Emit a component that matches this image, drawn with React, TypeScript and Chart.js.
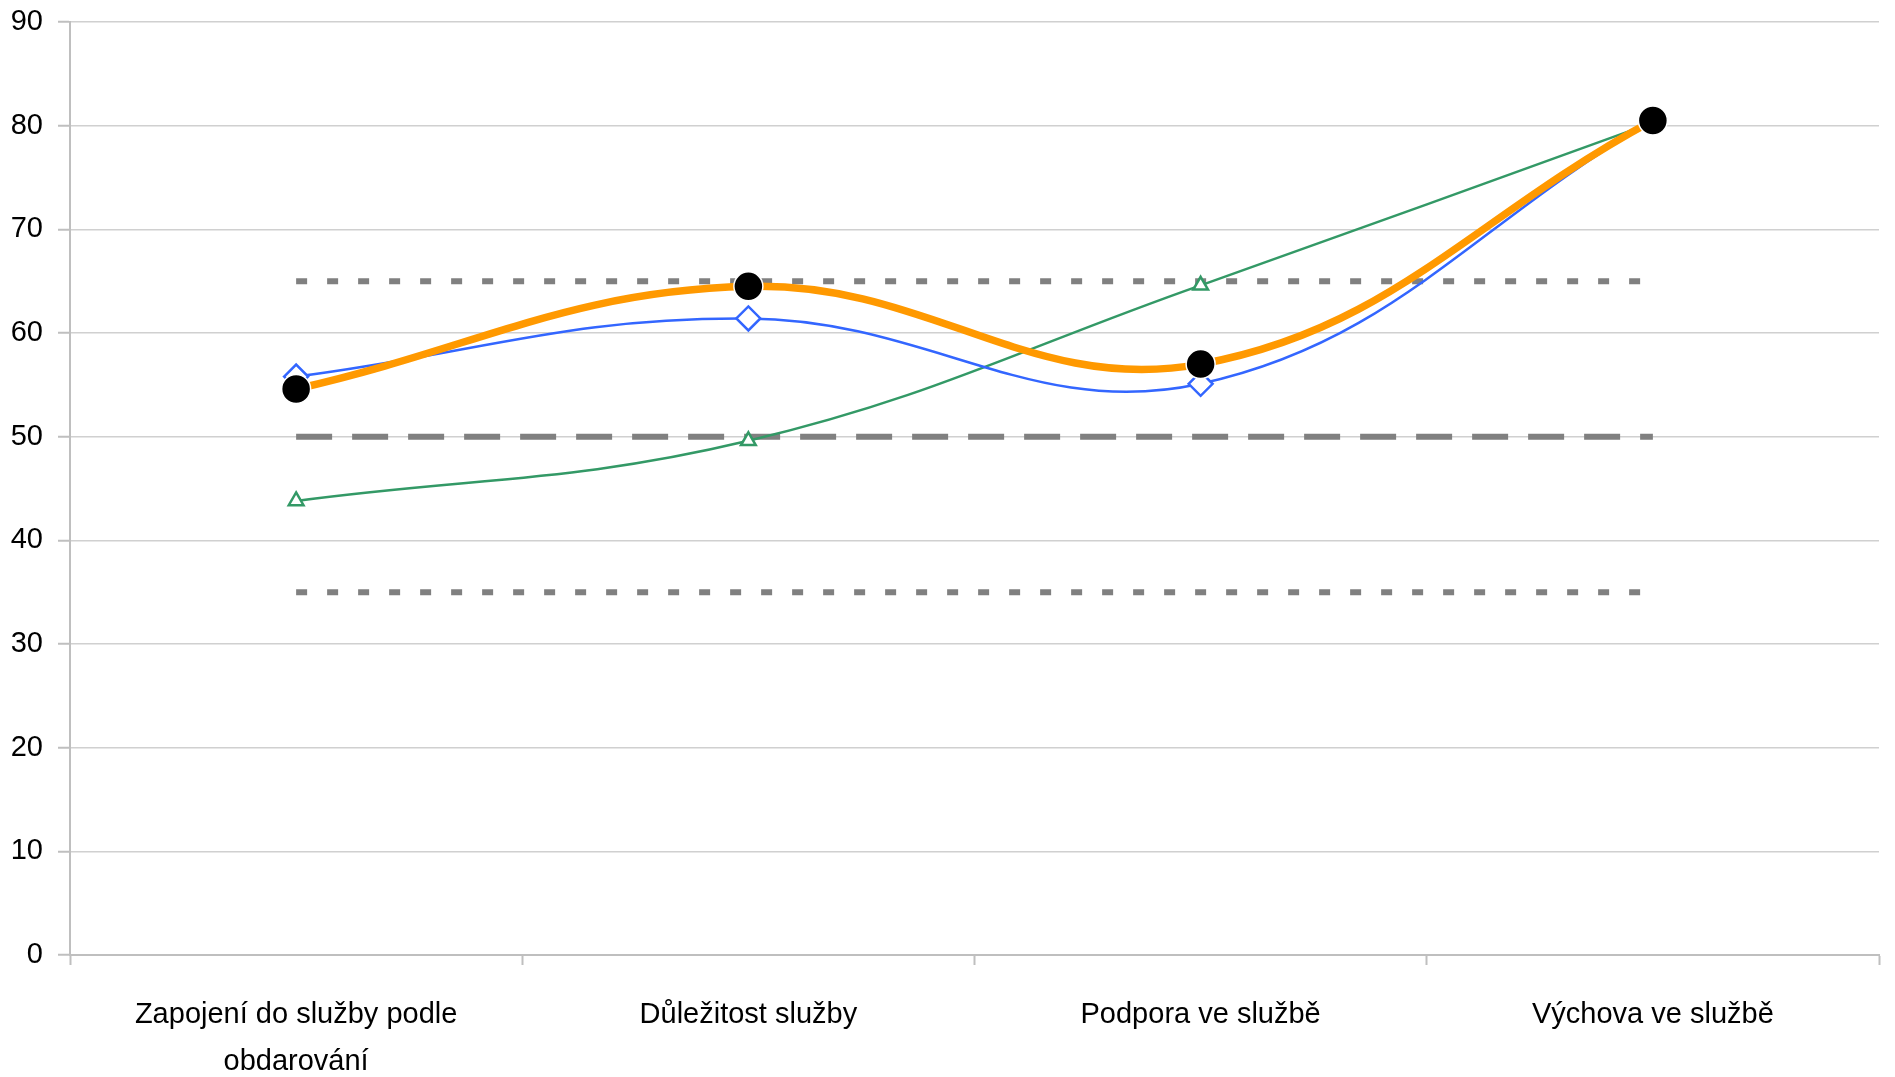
import React, { useEffect, useRef } from "react";
import { Chart, registerables } from "chart.js";

Chart.register(...registerables);

const categories: (string | string[])[] = [
  ["Zapojení do služby podle", "obdarování"],
  "Důležitost služby",
  "Podpora ve službě",
  "Výchova ve službě",
];

const seriesOrange = [54.6, 64.5, 57.0, 80.5];
const seriesBlue = [55.8, 61.4, 55.1, 80.5];
const seriesGreen = [43.8, 49.6, 64.6, 80.3];
const upperRef = [65, 65, 65, 65];
const midRef = [50, 50, 50, 50];
const lowerRef = [35, 35, 35, 35];

const yMin = 0;
const yMax = 90;
const yStep = 10;

export default function App() {
  const ref = useRef<HTMLCanvasElement | null>(null);

  useEffect(() => {
    if (!ref.current) return;
    const font = { family: "'Liberation Sans', Arial, sans-serif", size: 29 };
    const chart = new Chart(ref.current, {
      type: "line",
      data: {
        labels: categories,
        datasets: [
          {
            data: seriesOrange,
            borderColor: "#FF9900",
            borderWidth: 7.5,
            tension: 0.4,
            pointStyle: "circle",
            pointRadius: 14.5,
            pointBackgroundColor: "#000000",
            pointBorderColor: "#ffffff",
            pointBorderWidth: 1.5,
          },
          {
            data: seriesBlue,
            borderColor: "#3366FF",
            borderWidth: 2.5,
            tension: 0.4,
            pointStyle: "rectRot",
            pointRadius: 12,
            pointBackgroundColor: "#ffffff",
            pointBorderColor: "#3366FF",
            pointBorderWidth: 2.5,
          },
          {
            data: seriesGreen,
            borderColor: "#339966",
            borderWidth: 2.5,
            tension: 0.4,
            pointStyle: "triangle",
            pointRadius: 8.5,
            pointBackgroundColor: "#ffffff",
            pointBorderColor: "#339966",
            pointBorderWidth: 2.5,
          },
          {
            data: upperRef,
            borderColor: "#808080",
            borderWidth: 6,
            borderDash: [11, 20],
            borderCapStyle: "butt",
            pointRadius: 0,
            tension: 0,
          },
          {
            data: midRef,
            borderColor: "#808080",
            borderWidth: 6,
            borderDash: [36, 20],
            borderCapStyle: "butt",
            pointRadius: 0,
            tension: 0,
          },
          {
            data: lowerRef,
            borderColor: "#808080",
            borderWidth: 6,
            borderDash: [11, 20],
            borderCapStyle: "butt",
            pointRadius: 0,
            tension: 0,
          },
        ],
      },
      options: {
        responsive: false,
        animation: false,
        layout: { padding: { top: 22, right: 9, left: 0, bottom: 0 } },
        plugins: { legend: { display: false }, tooltip: { enabled: false } },
        scales: {
          x: {
            type: "category",
            offset: true,
            grid: {
              offset: true,
              drawOnChartArea: false,
              drawTicks: true,
              tickLength: 10,
              tickColor: "#bfbfbf",
              tickWidth: 2,
            },
            border: { color: "#bfbfbf", width: 2 },
            ticks: {
              font: { ...font, lineHeight: 47 / 29 },
              color: "#000000",
              padding: 26,
              maxRotation: 0,
              autoSkip: false,
            },
            afterFit: (s: any) => {
              s.height = 122;
              s.paddingLeft = 0;
              s.paddingRight = 0;
            },
          },
          y: {
            min: yMin,
            max: yMax,
            grid: {
              color: "#d0d0d0",
              lineWidth: 1.5,
              drawTicks: true,
              tickLength: 12,
              tickColor: "#bfbfbf",
              tickWidth: 2,
            },
            border: { color: "#bfbfbf", width: 2 },
            ticks: {
              stepSize: yStep,
              font,
              color: "#000000",
              padding: 15,
            },
            afterFit: (s: any) => {
              s.width = 70;
              s.paddingTop = 0;
              s.paddingBottom = 0;
            },
          },
        },
      },
    });
    return () => chart.destroy();
  }, []);

  return (
    <div style={{ position: "absolute", left: 0, top: 0, width: 1895, height: 1077, background: "#fff" }}>
      <canvas ref={ref} width={1895} height={1077} style={{ display: "block" }} />
    </div>
  );
}
